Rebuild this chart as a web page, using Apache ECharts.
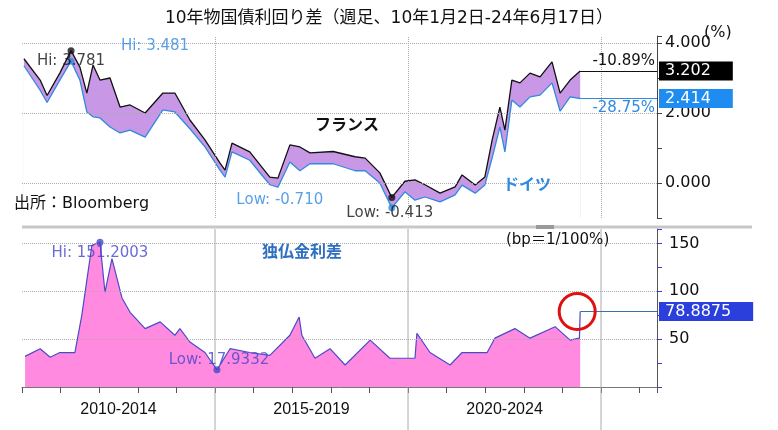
<!DOCTYPE html>
<html lang="ja">
<head>
    <meta charset="UTF-8">
    <title>10年物国債利回り差</title>
    <script src="https://cdn.jsdelivr.net/npm/echarts@6/dist/echarts.min.js"></script>
</head>
<style>
    body { margin: 0; background: #fff; }
    #chart { width: 778px; height: 430px; }
</style>
<body>
<div id="chart"></div>
<script>
    // 利回り (decimal years)
    const dates = [2010.05, 2010.47, 2010.65, 2010.98, 2011.27, 2011.5, 2011.68, 2011.84, 2012.02, 2012.28,
        2012.54, 2012.8, 2013.19, 2013.65, 2013.96, 2014.35, 2014.74, 2015.13, 2015.26, 2015.44,
        2015.9, 2016.42, 2016.63, 2016.94, 2017.2, 2017.46, 2018.06, 2018.63, 2018.89, 2019.27,
        2019.58, 2019.92, 2020.18, 2020.44, 2020.83, 2021.22, 2021.4, 2021.74, 2021.99, 2022.18,
        2022.38, 2022.51, 2022.69, 2022.9, 2023.16, 2023.42, 2023.73, 2023.94, 2024.2, 2024.46]
    const france = [3.55, 2.94, 2.5, 3.14, 3.781, 3.31, 2.57, 3.37, 2.94, 3.0,
        2.17, 2.23, 2.0, 2.57, 2.57, 1.8, 1.23, 0.57, 0.37, 1.14,
        0.89, 0.17, 0.14, 1.09, 1.03, 0.86, 0.9, 0.75, 0.71, 0.29,
        -0.413, 0.05, 0.09, -0.05, -0.29, -0.11, 0.23, -0.06, 0.17, 1.23,
        2.17, 1.51, 2.94, 2.86, 3.14, 3.03, 3.46, 2.57, 2.94, 3.202]
    const germany = [3.35, 2.65, 2.3, 2.94, 3.481, 2.94, 2.03, 1.89, 1.86, 1.6,
        1.43, 1.51, 1.31, 2.09, 2.03, 1.55, 1.03, 0.37, 0.17, 0.89,
        0.65, -0.05, -0.12, 0.6, 0.35, 0.55, 0.55, 0.35, 0.35, 0.0,
        -0.71, -0.25, -0.49, -0.4, -0.54, -0.34, -0.06, -0.29, -0.06, 0.72,
        1.6, 0.89, 2.37, 2.17, 2.46, 2.51, 2.86, 2.05, 2.46, 2.414]

    // 独仏金利差 (bp)
    const spreadDates = [2010.08, 2010.47, 2010.73, 2010.98, 2011.37, 2011.55, 2011.81, 2012.02, 2012.15, 2012.33,
        2012.59, 2012.8, 2013.19, 2013.58, 2013.96, 2014.09, 2014.35, 2014.74, 2015.05, 2015.39,
        2015.9, 2016.42, 2016.94, 2017.18, 2017.25, 2017.59, 2017.98, 2018.37, 2019.02, 2019.53,
        2020.18, 2020.23, 2020.57, 2021.09, 2021.4, 2022.05, 2022.25, 2022.77, 2023.16, 2023.81,
        2024.2, 2024.44, 2024.46]
    const spread = [32, 40, 31, 36, 36, 75, 148, 151.2003, 99, 134,
        93, 78, 61, 68, 54, 61, 47, 36, 17.9332, 40,
        36, 33, 54, 73, 54, 30, 40, 23, 49, 30,
        30, 56, 36, 23, 36, 36, 51, 61, 51, 63,
        49, 51, 78.8875]

    const lastChange = ['-10.89%', '-28.75%']
    const periodLabels = ['2010-2014', '2015-2019', '2020-2024']
    const periodCenters = [2012.5, 2017.5, 2022.5]
    const boundaries = [2015, 2020, 2025]
    const topGridLines = [0, 2, 4]

    const FONT = 'DejaVu Sans, Noto Sans CJK JP'
    const X_MIN = 2010, X_MAX = 2026.45
    const BLUE = '#2f8ae0'

    let pairs = (xs, ys) => xs.map((x, i) => [x, ys[i]])
    let last = dates.length - 1

    let fi = france.indexOf(Math.max(...france)), fl = france.indexOf(Math.min(...france))
    let gi = germany.indexOf(Math.max(...germany)), gl = germany.indexOf(Math.min(...germany))
    let si = spread.indexOf(Math.max(...spread)), sl = spread.indexOf(Math.min(...spread))

    function pt(x, y, color, text, offset) {
        return {
            value: [x, y], itemStyle: {color: color},
            label: {show: true, formatter: text, color: color, offset: offset, position: 'inside',
                fontSize: 15, fontFamily: FONT}
        }
    }

    let endLine = (x, y, color, text, bg, pctText) => {
        let items = [[
            {coord: [x, y], lineStyle: {color: color, width: 1.2, type: 'solid'},
                label: {show: true, position: 'end', formatter: text, color: '#fff', backgroundColor: bg,
                    padding: [2, 22, 1, 6], fontSize: 16, fontFamily: FONT, distance: 2}},
            {coord: [X_MAX, y]}
        ]]
        if (pctText) {
            items.push([
                {coord: [x, y], lineStyle: {color: color, width: 1.2},
                    label: {show: true, position: pctText.pos, formatter: pctText.text, color: color,
                        fontSize: 15, fontFamily: FONT, distance: 2}},
                {coord: [X_MAX, y]}
            ])
        }
        return items
    }
    let dotted = {color: '#aaa', type: 'dotted', width: 1}

    option = {
        animation: false,
        textStyle: {fontFamily: FONT},
        title: {
            text: '10年物国債利回り差（週足、10年1月2日-24年6月17日）',
            left: 'center', top: 5,
            textStyle: {fontSize: 17, fontWeight: 'normal', color: '#111', fontFamily: FONT}
        },
        grid: [
            {left: 22, right: 121, top: 36, height: 182},
            {left: 22, right: 121, top: 229, height: 158}
        ],
        xAxis: [
            {gridIndex: 0, type: 'value', min: X_MIN, max: X_MAX, show: false},
            {gridIndex: 1, type: 'value', min: X_MIN, max: X_MAX, interval: 1,
                axisLine: {show: true, lineStyle: {color: '#777'}},
                axisTick: {show: true, length: 6, lineStyle: {color: '#555'}},
                axisLabel: {show: false}, splitLine: {show: false}}
        ],
        yAxis: [
            {gridIndex: 0, type: 'value', position: 'right', min: -1, max: 4.2, interval: 1,
                axisLine: {show: true, lineStyle: {color: '#444'}},
                axisTick: {show: true, length: 5, lineStyle: {color: '#444'}},
                splitLine: {show: false},
                axisLabel: {fontSize: 16, color: '#111', margin: 8,
                    formatter: v => (v % 2 === 0 && v >= 0) ? v.toFixed(3) : ''}},
            {gridIndex: 1, type: 'value', position: 'right', min: 0, max: 165, interval: 25,
                axisLine: {show: true, lineStyle: {color: '#555'}},
                axisTick: {show: true, length: 5, lineStyle: {color: '#3344cc'}},
                splitLine: {show: false},
                axisLabel: {fontSize: 16, color: '#111', margin: 12,
                    formatter: v => (v % 50 === 0 && v > 0) ? v : ''}}
        ],
        series: [
            // purple fill between the two curves: France area, then white Germany area over it
            {
                type: 'line', xAxisIndex: 0, yAxisIndex: 0, data: pairs(dates, france), showSymbol: false, z: 1,
                lineStyle: {width: 0}, areaStyle: {color: '#c897e6', opacity: 1, origin: 'start'}, silent: true
            },
            {
                type: 'line', xAxisIndex: 0, yAxisIndex: 0, data: pairs(dates, germany), showSymbol: false, z: 2,
                lineStyle: {width: 0}, areaStyle: {color: '#fff', opacity: 1, origin: 'start'}, silent: true
            },
            {
                type: 'line', xAxisIndex: 0, yAxisIndex: 0, data: [], silent: true, z: 3,
                markLine: {
                    symbol: 'none', silent: true,
                    data: topGridLines.map(v => ({yAxis: v, lineStyle: dotted, label: {show: false}}))
                        .concat(boundaries.map(v => ({xAxis: v, lineStyle: dotted, label: {show: false}})))
                }
            },
            {
                name: 'ドイツ', type: 'line', xAxisIndex: 0, yAxisIndex: 0,
                data: pairs(dates, germany), showSymbol: false, z: 4,
                lineStyle: {color: BLUE, width: 1.3}
            },
            {
                name: 'フランス', type: 'line', xAxisIndex: 0, yAxisIndex: 0,
                data: pairs(dates, france), showSymbol: false, z: 4,
                lineStyle: {color: '#111', width: 1.3}
            },
            {
                type: 'scatter', xAxisIndex: 0, yAxisIndex: 0, symbolSize: 7, z: 6,
                data: [
                    pt(dates[fi], france[fi], '#111', 'Hi: ' + france[fi].toFixed(3), [0, 10]),
                    pt(dates[gi], germany[gi], BLUE, 'Hi: ' + germany[gi].toFixed(3), [84, -15]),
                    pt(dates[fl], france[fl], '#111', 'Low: ' + france[fl].toFixed(3), [-2, 16]),
                    pt(dates[gl], germany[gl], BLUE, 'Low: ' + germany[gl].toFixed(3), [-112, -8])
                ],
                markLine: {
                    symbol: 'none', silent: true,
                    data: endLine(dates[last], france[last], '#111', france[last].toFixed(3), '#000', {text: lastChange[0], pos: 'insideEndTop'})
                        .concat(endLine(dates[last], germany[last], BLUE, germany[last].toFixed(3), '#1e8cf0', {text: lastChange[1], pos: 'insideEndBottom'}))
                }
            },
            {
                name: '独仏金利差', type: 'line', xAxisIndex: 1, yAxisIndex: 1,
                data: pairs(spreadDates, spread), showSymbol: false, z: 3,
                lineStyle: {color: '#4b4bc8', width: 1.2},
                areaStyle: {color: '#ff8ae0', opacity: 1},
                markLine: {
                    symbol: 'none', silent: true,
                    data: [50, 100, 150].map(v => ({yAxis: v, lineStyle: dotted, label: {show: false}}))
                        .concat(endLine(spreadDates[spread.length - 1], spread[spread.length - 1], '#3a6fb0',
                            spread[spread.length - 1].toFixed(4), '#2b3fdd', null))
                }
            },
            {
                type: 'scatter', xAxisIndex: 1, yAxisIndex: 1, symbolSize: 7, z: 6,
                data: [
                    pt(spreadDates[si], spread[si], '#4646c8', 'Hi: ' + spread[si].toFixed(4), [0, 11]),
                    pt(spreadDates[sl], spread[sl], '#4646c8', 'Low: ' + spread[sl].toFixed(4), [2, -10])
                ]
            }
        ]
    };

    let chart = echarts.init(document.getElementById('chart'));
    chart.setOption(option)

    let px = (ax, v) => chart.convertToPixel({xAxisIndex: ax}, v)
    let graphic = []
    boundaries.forEach(b => {
        graphic.push({type: 'line', shape: {x1: px(1, b), y1: 229, x2: px(1, b), y2: 430},
            style: {stroke: '#aaa', lineWidth: 1}, z: 1})
    })
    periodLabels.forEach((t, i) => {
        graphic.push({type: 'text', x: px(1, periodCenters[i]), y: 410, z: 20,
            style: {text: t, fontSize: 16, fill: '#111', font: '16px ' + FONT, align: 'center', verticalAlign: 'middle'}})
    })
    let lastPt = chart.convertToPixel({xAxisIndex: 1, yAxisIndex: 1},
        [spreadDates[spread.length - 1], spread[spread.length - 1]])
    graphic.push(
        {type: 'circle', shape: {cx: lastPt[0] - 3, cy: lastPt[1], r: 18},
            style: {fill: 'none', stroke: '#e01010', lineWidth: 3}, z: 20},
        {type: 'line', shape: {x1: 22, y1: 227, x2: 752, y2: 227}, style: {stroke: '#c8c8c8', lineWidth: 3}, z: 20},
        {type: 'rect', shape: {x: 536, y: 225, width: 18, height: 4}, style: {fill: '#999'}, z: 21},
        {type: 'text', x: 704, y: 25, z: 20, style: {text: '(%)', font: '16px ' + FONT, fill: '#111'}},
        {type: 'text', x: 315, y: 118, z: 20, style: {text: 'フランス', font: 'bold 16px ' + FONT, fill: '#111'}},
        {type: 'text', x: 503, y: 178, z: 20, style: {text: 'ドイツ', font: 'bold 16px ' + FONT, fill: '#2f8ae0'}},
        {type: 'text', x: 14, y: 196, z: 20, style: {text: '出所：Bloomberg', font: '16px ' + FONT, fill: '#111'}},
        {type: 'text', x: 262, y: 245, z: 20, style: {text: '独仏金利差', font: 'bold 16px ' + FONT, fill: '#2f6fc0'}},
        {type: 'text', x: 506, y: 233, z: 20, style: {text: '(bp＝1/100%)', font: '15px ' + FONT, fill: '#111'}}
    )
    chart.setOption({graphic: graphic})
</script>
</body>
</html>
